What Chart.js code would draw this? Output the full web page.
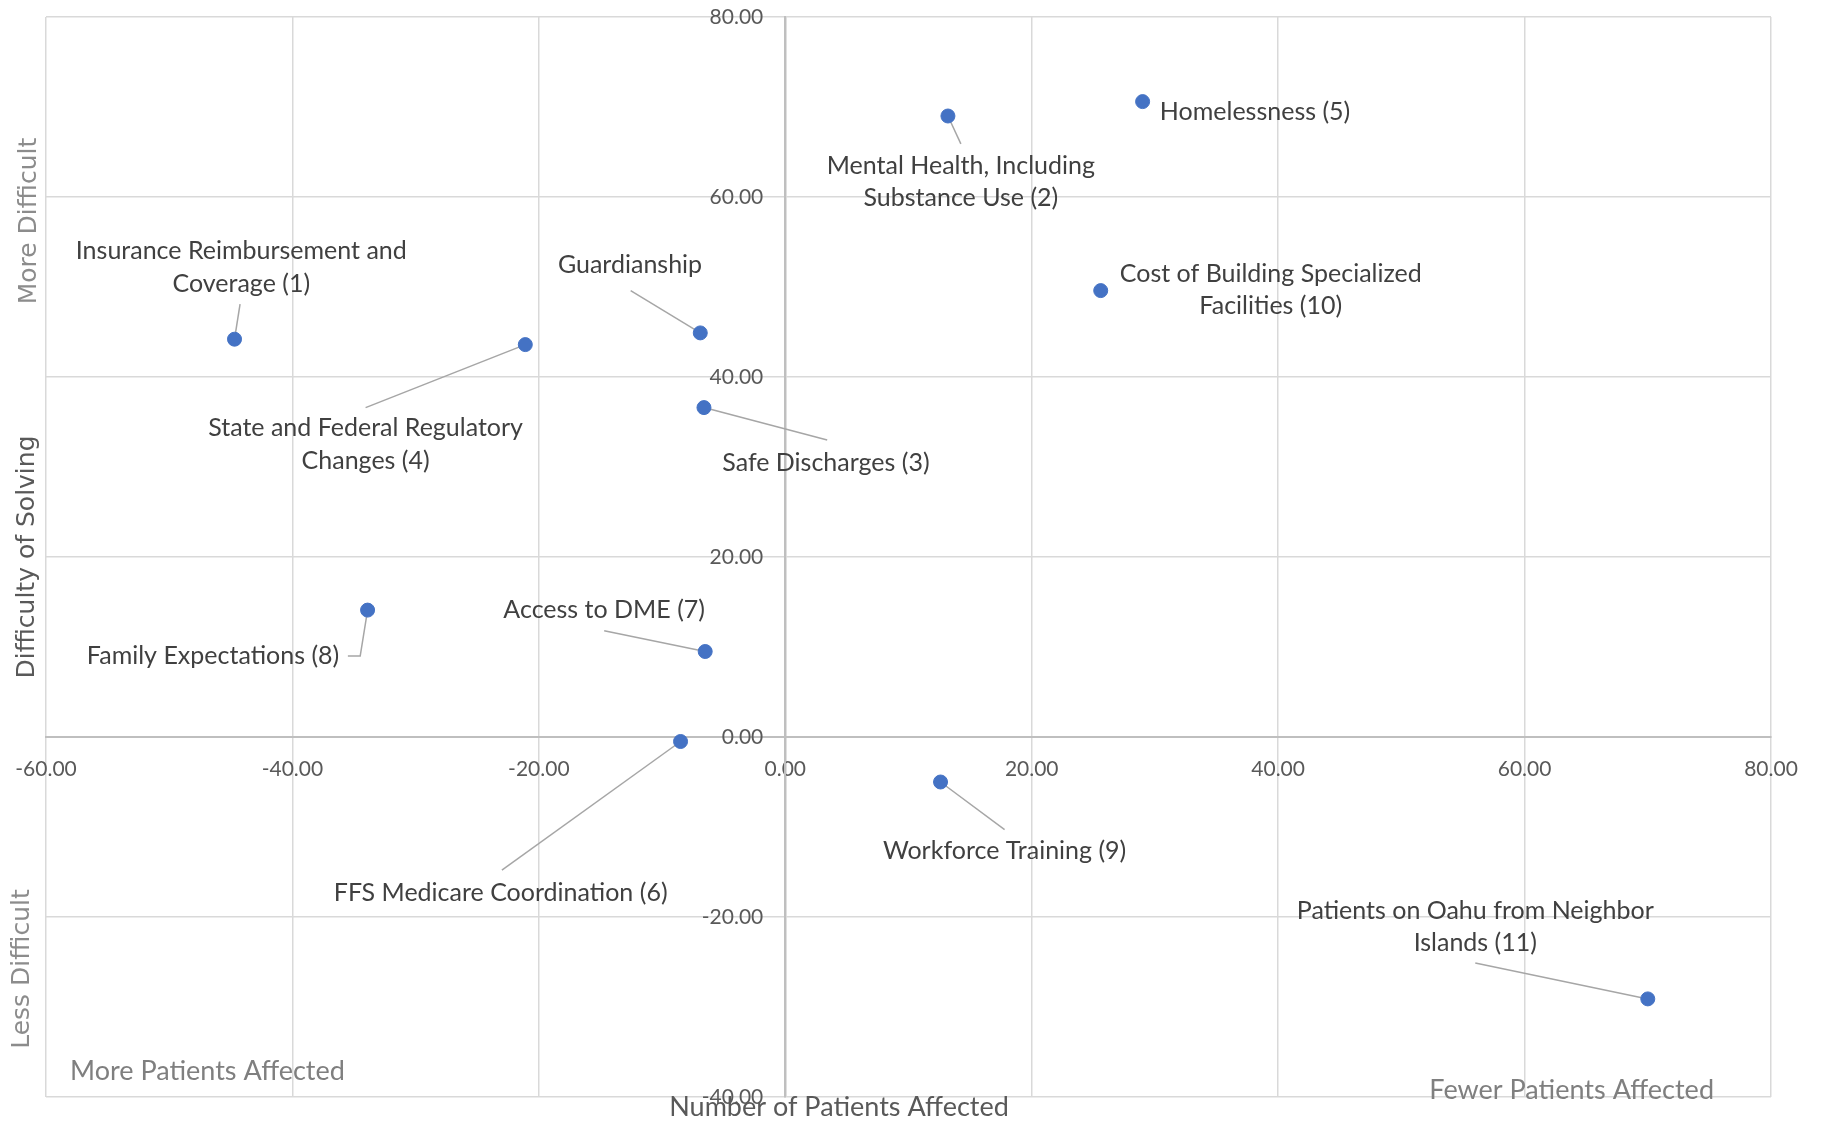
<!DOCTYPE html>
<html>
<head>
<meta charset="utf-8">
<script src="https://cdn.jsdelivr.net/npm/chart.js@4.4.1/dist/chart.umd.min.js"></script>
<style>
  html, body { margin: 0; padding: 0; background: #fff; }
</style>
</head>
<body>
<canvas id="matrix" width="1822" height="1122"></canvas>
<script>
// issues, with number of patients affected (x) and difficulty of solving (y)
const issues = [
  ["Insurance Reimbursement and", "Coverage (1)"],
  ["Mental Health, Including", "Substance Use (2)"],
  ["Safe Discharges (3)"],
  ["State and Federal Regulatory", "Changes (4)"],
  ["Homelessness (5)"],
  ["FFS Medicare Coordination (6)"],
  ["Access to DME (7)"],
  ["Family Expectations (8)"],
  ["Workforce Training (9)"],
  ["Cost of Building Specialized", "Facilities (10)"],
  ["Patients on Oahu from Neighbor", "Islands (11)"],
  ["Guardianship"]
];
const patientsAffected = [-44.7, 13.2, -6.6, -21.1, 29.0, -8.5, -6.5, -33.9, 12.6, 25.6, 70.0, -6.9];
const difficulty = [44.2, 69.0, 36.6, 43.6, 70.6, -0.5, 9.5, 14.1, -5.0, 49.6, -29.1, 44.9];

const xTicks = [-60, -40, -20, 0, 20, 40, 60, 80];
const yTicks = [-40, -20, 0, 20, 40, 60, 80];

// where each label sits (in chart units) and the leader line back to its point
const labelPlacement = [
  { x: -44.15, y: 54.0, align: "center", leader: [[-44.25, 48.1]] },
  { x: 14.25, y: 63.5, align: "center", leader: [[14.25, 65.9]] },
  { x: 3.3, y: 30.5, align: "center", leader: [[3.4, 33.0]] },
  { x: -34.06, y: 34.3, align: "center", leader: [[-34.06, 36.6]] },
  { x: 30.4, y: 69.4, align: "left", leader: null },
  { x: -23.1, y: -17.3, align: "center", leader: [[-23.0, -14.8]] },
  { x: -14.7, y: 14.1, align: "center", leader: [[-14.7, 11.8]] },
  { x: -36.2, y: 9.0, align: "right", leader: [[-35.5, 9.0], [-34.5, 9.0]] },
  { x: 17.8, y: -12.7, align: "center", leader: [[17.8, -10.3]] },
  { x: 39.4, y: 51.5, align: "center", leader: null },
  { x: 56.0, y: -19.3, align: "center", leader: [[56.0, -25.1]] },
  { x: -12.6, y: 52.5, align: "center", leader: [[-12.55, 49.6]] }
];

const labelFont = "Lato, 'Open Sans', sans-serif";
const gridColor = ctx => (ctx.tick && ctx.tick.value === 0 ? "#bfbfbf" : "#d9d9d9");
const noEdgePadding = s => { s.paddingTop = 0; s.paddingBottom = 0; s.paddingLeft = 0; s.paddingRight = 0; };

const annotations = {
  id: "annotations",
  beforeDatasetsDraw(chart) {
    const { ctx, scales: { x, y } } = chart;
    ctx.save();
    ctx.strokeStyle = "#a6a6a6";
    ctx.lineWidth = 1.5;
    labelPlacement.forEach((p, i) => {
      if (!p.leader) return;
      ctx.beginPath();
      p.leader.forEach(([lx, ly], j) => {
        const px = x.getPixelForValue(lx), py = y.getPixelForValue(ly);
        j === 0 ? ctx.moveTo(px, py) : ctx.lineTo(px, py);
      });
      ctx.lineTo(x.getPixelForValue(patientsAffected[i]), y.getPixelForValue(difficulty[i]));
      ctx.stroke();
    });

    // y tick labels sit left of the zero line
    ctx.fillStyle = "#595959";
    ctx.font = "21px " + labelFont;
    ctx.textAlign = "right";
    ctx.textBaseline = "middle";
    const zeroX = x.getPixelForValue(0);
    y.ticks.forEach(t => ctx.fillText(t.value.toFixed(2), zeroX - 22, y.getPixelForValue(t.value)));
    ctx.restore();
  },
  afterDatasetsDraw(chart) {
    const { ctx, scales: { x, y } } = chart;
    ctx.save();
    ctx.fillStyle = "#404040";
    ctx.font = "25px " + labelFont;
    ctx.textBaseline = "middle";
    labelPlacement.forEach((p, i) => {
      ctx.textAlign = p.align;
      const px = x.getPixelForValue(p.x), py = y.getPixelForValue(p.y);
      issues[i].forEach((line, k) => ctx.fillText(line, px, py + k * 32.5));
    });
    ctx.restore();
  },
  afterDraw(chart) {
    const { ctx } = chart;
    ctx.save();
    ctx.textBaseline = "middle";

    ctx.font = "27px " + labelFont;
    ctx.fillStyle = "#7f7f7f";
    ctx.textAlign = "left";
    ctx.fillText("More Patients Affected", 70, 1071);
    ctx.textAlign = "right";
    ctx.fillText("Fewer Patients Affected", 1714, 1090);
    ctx.fillStyle = "#595959";
    ctx.textAlign = "center";
    ctx.fillText("Number of Patients Affected", 839, 1107);

    const vertical = (text, cx, cy, color) => {
      ctx.save();
      ctx.translate(cx, cy);
      ctx.rotate(-Math.PI / 2);
      ctx.fillStyle = color;
      ctx.textAlign = "center";
      ctx.fillText(text, 0, 0);
      ctx.restore();
    };
    ctx.font = "25px 'DejaVu Sans', sans-serif";
    vertical("More Difficult", 29, 221, "#8c8c8c");
    vertical("Difficulty of Solving", 27, 557, "#595959");
    vertical("Less Difficult", 22, 969, "#8c8c8c");
    ctx.restore();
  }
};

new Chart(document.getElementById("matrix").getContext("2d"), {
  type: "scatter",
  data: {
    datasets: [
      {
        data: patientsAffected.map((v, i) => ({ x: v, y: difficulty[i] })),
        backgroundColor: "#4472c4",
        borderColor: "#4472c4",
        pointRadius: 7,
        pointHoverRadius: 7,
      },
    ],
  },
  options: {
    responsive: false,
    animation: false,
    devicePixelRatio: 1,
    layout: {
      padding: { left: 46, top: 17, right: 51, bottom: 25 },
    },
    plugins: {
      legend: { display: false },
      tooltip: { enabled: false },
    },
    scales: {
      x: {
        type: "linear",
        min: -60,
        max: 80,
        position: { y: 0 },
        afterBuildTicks: s => { s.ticks = xTicks.map(v => ({ value: v })); },
        afterFit: noEdgePadding,
        ticks: {
          callback: v => v.toFixed(2),
          color: "#595959",
          font: { family: labelFont, size: 21 },
          padding: 20,
          maxRotation: 0,
        },
        grid: { color: gridColor, lineWidth: 1.5, drawTicks: false },
        border: { color: "#bfbfbf", width: 2 },
      },
      y: {
        type: "linear",
        min: -40,
        max: 80,
        position: { x: 0 },
        afterBuildTicks: s => { s.ticks = yTicks.map(v => ({ value: v })); },
        afterFit: noEdgePadding,
        ticks: { display: false },
        grid: { color: gridColor, lineWidth: 1.5, drawTicks: false },
        border: { color: "#bfbfbf", width: 2 },
      },
    },
  },
  plugins: [annotations],
});
</script>
</body>
</html>
